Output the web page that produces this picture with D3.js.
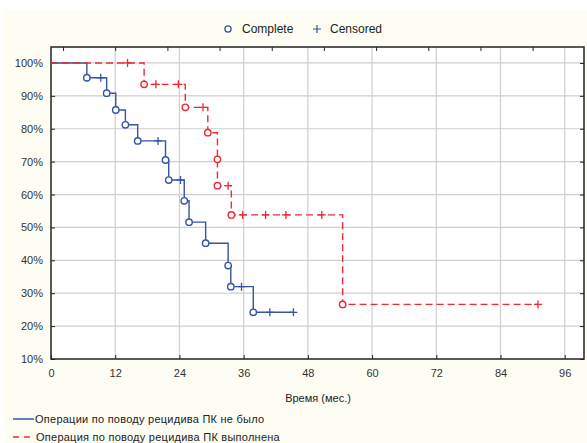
<!DOCTYPE html>
<html><head><meta charset="utf-8">
<script src="https://cdn.jsdelivr.net/npm/d3@7"></script>
<style>body{margin:0;background:#fff;} text{font-family:"Liberation Sans",Arial,sans-serif;}</style>
</head><body><svg id="c" width="587" height="443"></svg>
<script>
const xTicks = [0,12,24,36,48,60,72,84,96];
const yTicks = [10,20,30,40,50,60,70,80,90,100];
const topTicks = [2.25,12,21.75,31.5,41.25,51,60.75,70.5,80.25,90];
const blueEventTimes = [6.7,10.4,12.1,13.9,16.2,21.4,22.0,24.9,25.8,28.9,33.1,33.6,37.8];
const blueEventSurv  = [95.5,90.8,85.7,81.2,76.3,70.5,64.4,58.1,51.6,45.2,38.4,32.0,24.2];
const blueCensTimes  = [9.3,20.0,24.2,35.6,40.9,45.3];
const redEventTimes  = [17.4,25.1,29.3,31.1,31.1,33.7,54.5];
const redEventSurv   = [93.5,86.5,78.8,70.7,62.7,53.8,26.6];
const redCensTimes   = [14.3,19.6,23.8,28.4,33.1,35.8,40.1,43.9,50.6,91.0];
const seriesNames = ["Операции по поводу рецидива ПК не было","Операция по поводу рецидива ПК выполнена"];
const xLabel = "Время (мес.)";

const svg = d3.select("#c");
const L=51,R=584,T=47,B=359;
const x = d3.scaleLinear().domain([0,99.6]).range([L,R]);
const y = d3.scaleLinear().domain([10,104.85]).range([B,T]);
const blue="#3554a5", red="#ee2a33";

svg.append("rect").attr("x",4).attr("y",10).attr("width",583).attr("height",433).attr("fill","#fdfdf4");
svg.append("rect").attr("x",L).attr("y",T).attr("width",R-L).attr("height",B-T).attr("fill","#fff");

// grid
svg.append("g").selectAll("line").data(xTicks.filter(d=>d>0)).join("line")
  .attr("x1",d=>x(d)).attr("x2",d=>x(d)).attr("y1",T).attr("y2",B).attr("stroke","#cfcfcf").attr("stroke-width",1.2);
svg.append("g").selectAll("line").data(yTicks.filter(d=>d>10)).join("line")
  .attr("y1",d=>y(d)).attr("y2",d=>y(d)).attr("x1",L).attr("x2",R).attr("stroke","#cfcfcf").attr("stroke-width",1.2);

// axes (inward ticks)
const ax = svg.append("g").attr("transform",`translate(0,${B})`).call(d3.axisBottom(x).tickValues(xTicks).tickSize(-4).tickPadding(10));
const ay = svg.append("g").attr("transform",`translate(${L},0)`).call(d3.axisLeft(y).tickValues(yTicks).tickSize(-4).tickPadding(8).tickFormat(d=>d+"%"));
const at = svg.append("g").attr("transform",`translate(0,${T})`).call(d3.axisTop(x).tickValues(topTicks).tickSize(-4).tickFormat(""));
const ar = svg.append("g").attr("transform",`translate(${R},0)`).call(d3.axisRight(y).tickValues(yTicks).tickSize(-4).tickFormat(""));
[ax,ay,at,ar].forEach(g=>{g.select(".domain").remove();g.selectAll("line").attr("stroke","#222");g.selectAll("text").attr("font-size",11).attr("fill","#333").attr("font-family","Liberation Sans, Arial, sans-serif");});
svg.append("rect").attr("x",L).attr("y",T).attr("width",R-L).attr("height",B-T).attr("fill","none").attr("stroke","#222").attr("stroke-width",1.5);

function survAt(times,surv,t){let s=100;for(let i=0;i<times.length;i++){if(times[i]<=t)s=surv[i];}return s;}
function drawSeries(times,surv,cens,color,dash){
  const end = Math.max(d3.max(times),d3.max(cens));
  const pts=[[0,100]];
  times.forEach((t,i)=>pts.push([t,surv[i]]));
  pts.push([end,surv[surv.length-1]]);
  const line=d3.line().x(d=>x(d[0])).y(d=>y(d[1])).curve(d3.curveStepAfter);
  svg.append("path").attr("d",line(pts)).attr("fill","none").attr("stroke",color).attr("stroke-width",1.4)
    .attr("stroke-dasharray",dash||null);
  svg.append("g").selectAll("circle").data(times.map((t,i)=>[t,surv[i]])).join("circle")
    .attr("cx",d=>x(d[0])).attr("cy",d=>y(d[1])).attr("r",3.2).attr("fill","#fff").attr("stroke",color).attr("stroke-width",1.4);
  svg.append("g").selectAll("path").data(cens.map(t=>[t,survAt(times,surv,t)])).join("path")
    .attr("d",d=>{const cx=x(d[0]),cy=y(d[1]);return `M${cx-4},${cy}H${cx+4}M${cx},${cy-4}V${cy+4}`;})
    .attr("stroke",color).attr("stroke-width",1.3).attr("fill","none");
}
drawSeries(blueEventTimes,blueEventSurv,blueCensTimes,blue,null);
drawSeries(redEventTimes,redEventSurv,redCensTimes,red,"7,4");

// top legend
svg.append("circle").attr("cx",228).attr("cy",29).attr("r",3.1).attr("fill","none").attr("stroke",blue).attr("stroke-width",1.3);
svg.append("text").attr("x",242).attr("y",33).attr("font-size",12).attr("fill","#222").text("Complete");
svg.append("path").attr("d","M313,29H321M317,25V33").attr("stroke",blue).attr("stroke-width",1.2);
svg.append("text").attr("x",330).attr("y",33).attr("font-size",12).attr("fill","#222").text("Censored");

// x label
svg.append("text").attr("x",318).attr("y",402).attr("text-anchor","middle").attr("font-size",11).attr("fill","#222").text(xLabel);

// bottom legend
svg.append("line").attr("x1",13).attr("x2",34).attr("y1",419).attr("y2",419).attr("stroke",blue).attr("stroke-width",1.5);
svg.append("text").attr("x",35).attr("y",423).attr("font-size",11).attr("letter-spacing",0.25).attr("fill","#222").text(seriesNames[0]);
svg.append("line").attr("x1",13).attr("x2",34).attr("y1",437).attr("y2",437).attr("stroke",red).attr("stroke-width",1.5).attr("stroke-dasharray","6,5");
svg.append("text").attr("x",36).attr("y",441).attr("font-size",11).attr("letter-spacing",0.25).attr("fill","#222").text(seriesNames[1]);
</script></body></html>
